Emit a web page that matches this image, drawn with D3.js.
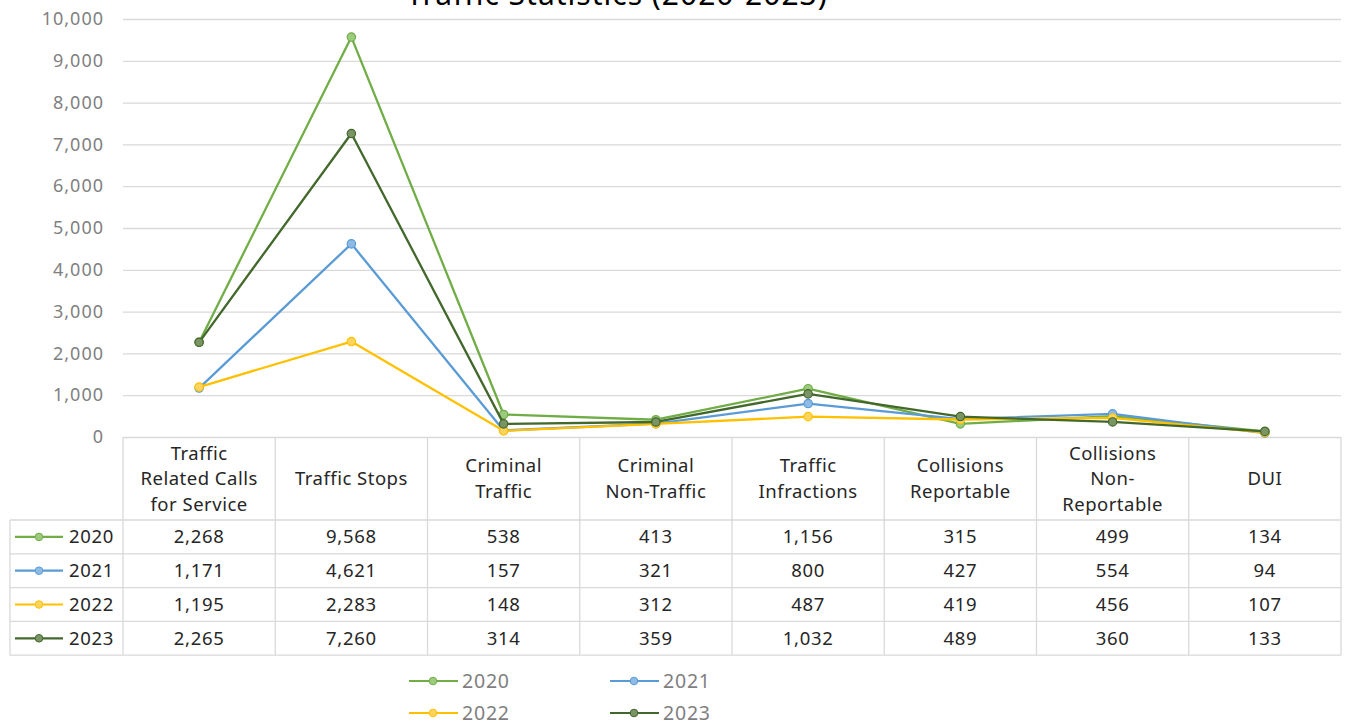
<!DOCTYPE html>
<html>
<head>
<meta charset="utf-8">
<script src="https://cdn.jsdelivr.net/npm/d3@7"></script>
<style>
  body { margin: 0; background: #fff; overflow: hidden; }
  svg { display: block; font-family: "Noto Sans", "Liberation Sans", sans-serif; }
</style>
</head>
<body>
<script>
// CHART DATA
var categories = [
  ["Traffic", "Related Calls", "for Service"],
  ["Traffic Stops"],
  ["Criminal", "Traffic"],
  ["Criminal", "Non-Traffic"],
  ["Traffic", "Infractions"],
  ["Collisions", "Reportable"],
  ["Collisions", "Non-", "Reportable"],
  ["DUI"]
];
var years = ["2020", "2021", "2022", "2023"];
var values2020 = [2268, 9568, 538, 413, 1156, 315, 499, 134];
var values2021 = [1171, 4621, 157, 321, 800, 427, 554, 94];
var values2022 = [1195, 2283, 148, 312, 487, 419, 456, 107];
var values2023 = [2265, 7260, 314, 359, 1032, 489, 360, 133];
var yTicks = [0, 1000, 2000, 3000, 4000, 5000, 6000, 7000, 8000, 9000, 10000];

var series = [
  { name: years[0], values: values2020, line: "#70AD47", fill: "#9DCB7E" },
  { name: years[1], values: values2021, line: "#5B9BD5", fill: "#8DBBE6" },
  { name: years[2], values: values2022, line: "#FFC000", fill: "#FFD45C" },
  { name: years[3], values: values2023, line: "#43682B", fill: "#7A9465" }
];

// LAYOUT
var W = 1348, H = 721;
var plot = { left: 123, right: 1341, top: 19, bottom: 437 };
var table = { legendLeft: 10, headerBottom: 520, rowH: 33.8 };
var fmt = d3.format(",");
var tableFont = 18.5, tableSpacing = 0.7;

var svg = d3.select("body").append("svg").attr("width", W).attr("height", H);

var keys = categories.map(function (c, i) { return "c" + i; });
var x = d3.scaleBand().domain(keys).range([plot.left, plot.right]);
var y = d3.scaleLinear().domain([0, 10000]).range([plot.bottom, plot.top]);

// TITLE (cut at the top)
svg.append("text")
  .attr("x", 617).attr("y", 5)
  .attr("text-anchor", "middle")
  .attr("font-size", 30)
  .attr("letter-spacing", 1)
  .attr("fill", "#000")
  .text("Traffic Statistics (2020-2023)");

// GRIDLINES
var grid = svg.append("g")
  .attr("transform", "translate(" + plot.left + ",0)")
  .call(d3.axisLeft(y).tickValues(yTicks).tickSize(-(plot.right - plot.left)).tickFormat(""));
grid.select(".domain").remove();
grid.selectAll("line").attr("stroke", "#d9d9d9").attr("stroke-width", 1.3);

// Y AXIS LABELS
var yAxis = svg.append("g")
  .attr("transform", "translate(104,0)")
  .call(d3.axisLeft(y).tickValues(yTicks).tickSize(0).tickPadding(0).tickFormat(fmt));
yAxis.select(".domain").remove();
yAxis.selectAll("text")
  .attr("font-size", 18)
  .attr("letter-spacing", 1)
  .attr("fill", "#7f7f7f")
  .style("font-family", "Noto Sans, sans-serif");

// TABLE GRID
var tg = svg.append("g").attr("stroke", "#d9d9d9").attr("stroke-width", 1.3);
var rowsTop = table.headerBottom;
var tableBottom = rowsTop + table.rowH * series.length;
// column lines
var colEdges = keys.map(function (k) { return x(k); }).concat([plot.right]);
colEdges.forEach(function (cx) {
  tg.append("line").attr("x1", cx).attr("x2", cx).attr("y1", plot.bottom).attr("y2", tableBottom);
});
tg.append("line").attr("x1", table.legendLeft).attr("x2", table.legendLeft).attr("y1", rowsTop).attr("y2", tableBottom);
// row lines
for (var r = 0; r <= series.length; r++) {
  var ry = rowsTop + r * table.rowH;
  tg.append("line").attr("x1", table.legendLeft).attr("x2", plot.right).attr("y1", ry).attr("y2", ry);
}

// HEADER LABELS
var lineH = 25.5;
categories.forEach(function (c, i) {
  var cx = x(keys[i]) + x.bandwidth() / 2;
  var cy = (plot.bottom + table.headerBottom) / 2;
  var t = svg.append("text")
    .attr("x", cx)
    .attr("text-anchor", "middle")
    .attr("font-size", tableFont)
    .attr("letter-spacing", 0.5)
    .attr("fill", "#262626");
  c.forEach(function (ln, j) {
    t.append("tspan")
      .attr("x", cx)
      .attr("y", cy + (j - (c.length - 1) / 2) * lineH + 6.5)
      .text(ln);
  });
});

// TABLE ROWS
series.forEach(function (s, si) {
  var cy = rowsTop + (si + 0.5) * table.rowH;
  var g = svg.append("g");
  g.append("line").attr("x1", 15).attr("x2", 63).attr("y1", cy).attr("y2", cy)
    .attr("stroke", s.line).attr("stroke-width", 2.2);
  g.append("circle").attr("cx", 39).attr("cy", cy).attr("r", 3.8)
    .attr("fill", s.fill).attr("stroke", s.line).attr("stroke-width", 1);
  g.append("text").attr("x", 69).attr("y", cy + 6.5)
    .attr("font-size", tableFont).attr("letter-spacing", tableSpacing)
    .attr("fill", "#262626").text(s.name);
  s.values.forEach(function (v, i) {
    g.append("text")
      .attr("x", x(keys[i]) + x.bandwidth() / 2)
      .attr("y", cy + 6.5)
      .attr("text-anchor", "middle")
      .attr("font-size", tableFont)
      .attr("letter-spacing", tableSpacing)
      .attr("fill", "#262626")
      .text(fmt(v));
  });
});

// LINES AND MARKERS
var line = d3.line()
  .x(function (d, i) { return x(keys[i]) + x.bandwidth() / 2; })
  .y(function (d) { return y(d); });

series.forEach(function (s) {
  svg.append("path")
    .attr("d", line(s.values))
    .attr("fill", "none")
    .attr("stroke", s.line)
    .attr("stroke-width", 2.3)
    .attr("stroke-linejoin", "round");
  svg.append("g").selectAll("circle")
    .data(s.values)
    .join("circle")
    .attr("cx", function (d, i) { return x(keys[i]) + x.bandwidth() / 2; })
    .attr("cy", function (d) { return y(d); })
    .attr("r", 4.2)
    .attr("fill", s.fill)
    .attr("stroke", s.line)
    .attr("stroke-width", 1.2);
});

// BOTTOM LEGEND
var legendPos = [[409, 681], [610, 681], [409, 713], [610, 713]];
series.forEach(function (s, si) {
  var lx = legendPos[si][0], ly = legendPos[si][1];
  var g = svg.append("g");
  g.append("line").attr("x1", lx).attr("x2", lx + 49).attr("y1", ly).attr("y2", ly)
    .attr("stroke", s.line).attr("stroke-width", 2.2);
  g.append("circle").attr("cx", lx + 24).attr("cy", ly).attr("r", 3.8)
    .attr("fill", s.fill).attr("stroke", s.line).attr("stroke-width", 1);
  g.append("text").attr("x", lx + 53).attr("y", ly + 7)
    .attr("font-size", 19.5).attr("letter-spacing", 0.8)
    .attr("fill", "#7f7f7f").text(s.name);
});
</script>
</body>
</html>
